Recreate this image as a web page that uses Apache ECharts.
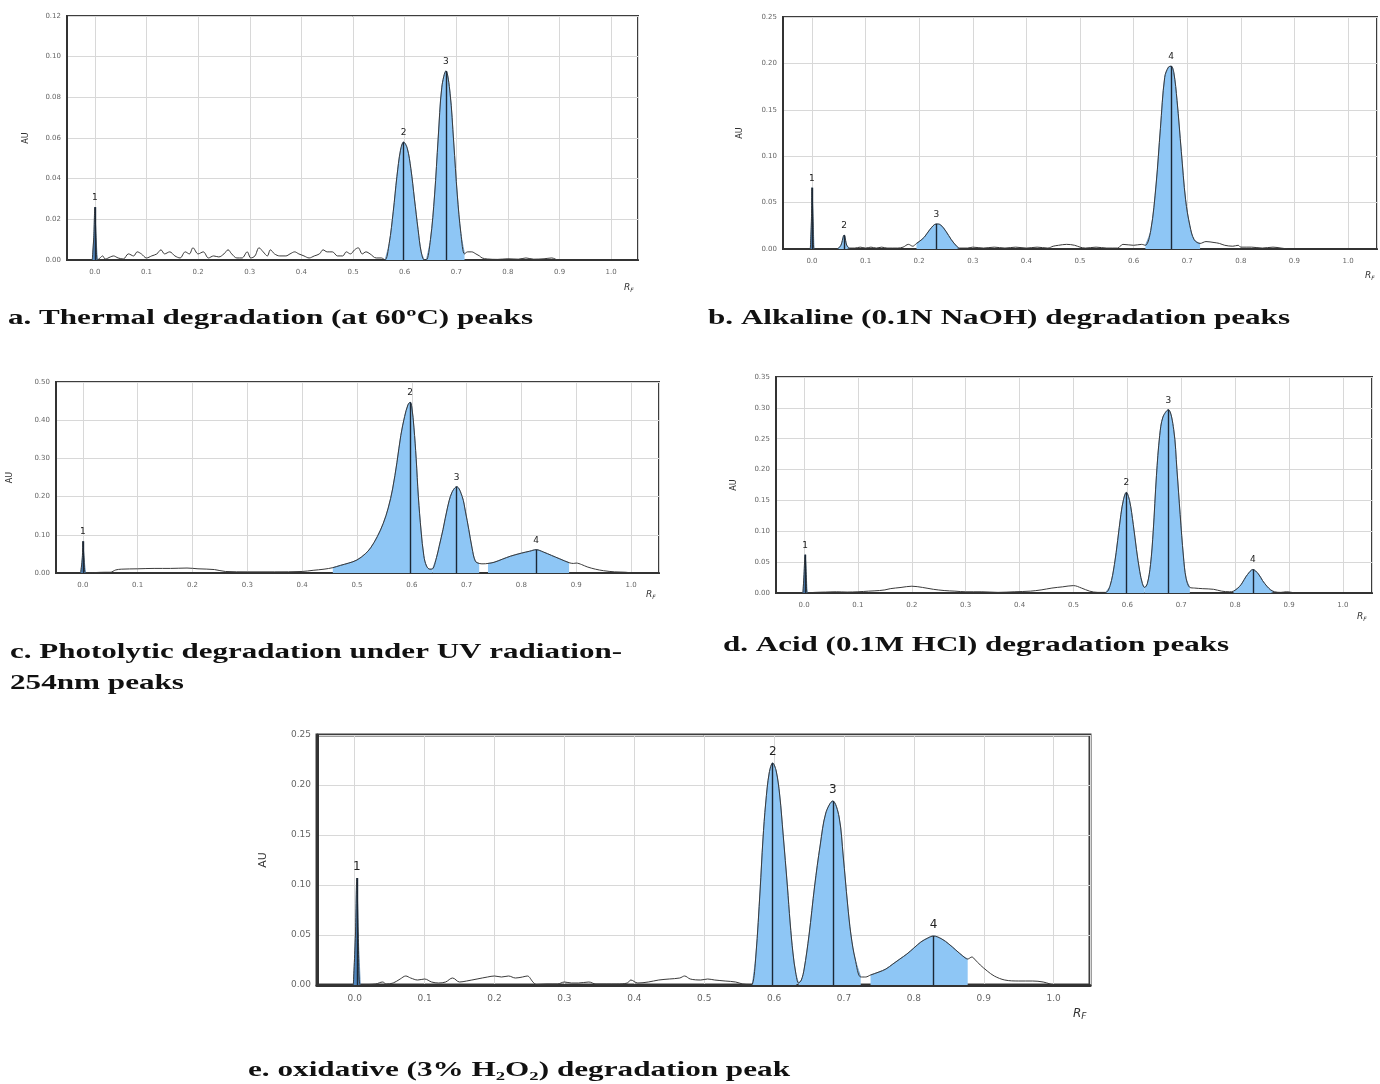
<!DOCTYPE html>
<html><head><meta charset="utf-8">
<script src="https://cdn.jsdelivr.net/npm/echarts@6/dist/echarts.min.js"></script>
<style>html,body{margin:0;padding:0;background:#fff}#c{width:1380px;height:1084px}</style>
</head><body><div id="c"></div>
<script>
// ---------- DATA (Rf, AU) ----------
const traceA = [[-0.005,0],[-0.002,0.012],[0.0,0.026],[0.002,0.012],[0.005,0.0],[0.01,0.001],[0.015,0.002],[0.02,0.0005],[0.03,0.0015],[0.036,0.002],[0.045,0.001],[0.055,0.0005],[0.065,0.003],[0.075,0.002],[0.082,0.004],[0.09,0.003],[0.1,0.001],[0.11,0.002],[0.12,0.003],[0.128,0.005],[0.135,0.003],[0.145,0.004],[0.155,0.002],[0.165,0.001],[0.175,0.004],[0.183,0.003],[0.19,0.006],[0.2,0.003],[0.21,0.004],[0.22,0.001],[0.23,0.002],[0.24,0.0015],[0.25,0.003],[0.258,0.005],[0.265,0.003],[0.275,0.001],[0.285,0.001],[0.295,0.004],[0.302,0.001],[0.31,0.002],[0.318,0.006],[0.326,0.004],[0.334,0.002],[0.34,0.005],[0.348,0.003],[0.358,0.002],[0.37,0.002],[0.378,0.003],[0.387,0.004],[0.395,0.003],[0.405,0.002],[0.415,0.001],[0.425,0.002],[0.435,0.003],[0.442,0.005],[0.45,0.004],[0.46,0.004],[0.47,0.002],[0.48,0.002],[0.487,0.004],[0.495,0.003],[0.503,0.005],[0.51,0.006],[0.518,0.003],[0.525,0.004],[0.533,0.003],[0.545,0.001],[0.555,0.001],[0.562,0.0],[0.57,0.008],[0.578,0.024],[0.585,0.041],[0.592,0.054],[0.598,0.058],[0.605,0.055],[0.612,0.045],[0.619,0.03],[0.626,0.015],[0.632,0.004],[0.638,0.0],[0.642,0.0],[0.65,0.01],[0.658,0.032],[0.665,0.06],[0.672,0.085],[0.68,0.093],[0.688,0.082],[0.695,0.058],[0.702,0.032],[0.709,0.013],[0.716,0.003],[0.722,0.004],[0.73,0.004],[0.738,0.003],[0.745,0.002],[0.75,0.001],[0.76,0.0005],[0.78,0.0003],[0.8,0.0006],[0.82,0.0004],[0.835,0.001],[0.85,0.0004],[0.87,0.0006],[0.885,0.001],[0.895,0.0]];
const peaksA = [['1',-0.005,0.005],['2',0.562,0.638],['3',0.642,0.716]];

const traceB = [[-0.003,0],[-0.001,0.03],[0.0,0.066],[0.002,0.03],[0.004,0.0],[0.02,0.0],[0.04,0.0],[0.048,0.0005],[0.054,0.004],[0.06,0.015],[0.065,0.004],[0.07,0.001],[0.08,0.001],[0.09,0.002],[0.1,0.001],[0.11,0.002],[0.12,0.001],[0.13,0.002],[0.14,0.001],[0.15,0.001],[0.16,0.001],[0.17,0.002],[0.18,0.005],[0.188,0.003],[0.195,0.006],[0.2,0.008],[0.21,0.013],[0.22,0.021],[0.232,0.027],[0.24,0.026],[0.25,0.019],[0.26,0.01],[0.27,0.003],[0.275,0.001],[0.29,0.001],[0.3,0.002],[0.32,0.001],[0.34,0.002],[0.36,0.001],[0.38,0.002],[0.4,0.001],[0.42,0.002],[0.44,0.001],[0.45,0.003],[0.46,0.004],[0.475,0.005],[0.49,0.004],[0.5,0.002],[0.51,0.001],[0.53,0.002],[0.55,0.001],[0.57,0.001],[0.58,0.005],[0.6,0.004],[0.615,0.005],[0.622,0.004],[0.632,0.02],[0.642,0.07],[0.65,0.13],[0.658,0.185],[0.665,0.196],[0.67,0.197],[0.675,0.19],[0.681,0.16],[0.689,0.105],[0.697,0.053],[0.705,0.025],[0.713,0.01],[0.724,0.006],[0.735,0.008],[0.75,0.007],[0.76,0.006],[0.77,0.004],[0.785,0.003],[0.795,0.004],[0.8,0.002],[0.82,0.002],[0.84,0.001],[0.86,0.002],[0.875,0.001],[0.888,0.0]];
const peaksB = [['1',-0.003,0.004],['2',0.048,0.07],['3',0.195,0.275],['4',0.622,0.724]];

const traceC = [[-0.004,0],[-0.001,0.04],[0.0,0.083],[0.002,0.04],[0.005,0.0],[0.02,0.001],[0.04,0.002],[0.05,0.002],[0.06,0.008],[0.07,0.01],[0.1,0.011],[0.13,0.012],[0.16,0.012],[0.19,0.013],[0.21,0.011],[0.24,0.009],[0.26,0.004],[0.3,0.003],[0.35,0.003],[0.4,0.004],[0.42,0.007],[0.44,0.01],[0.456,0.014],[0.47,0.02],[0.485,0.026],[0.5,0.034],[0.515,0.05],[0.525,0.066],[0.537,0.095],[0.548,0.13],[0.557,0.17],[0.565,0.22],[0.573,0.29],[0.58,0.36],[0.587,0.41],[0.593,0.44],[0.597,0.447],[0.6,0.435],[0.604,0.38],[0.608,0.3],[0.612,0.2],[0.617,0.11],[0.622,0.045],[0.627,0.018],[0.633,0.01],[0.638,0.011],[0.645,0.04],[0.65,0.07],[0.657,0.114],[0.665,0.17],[0.673,0.21],[0.682,0.226],[0.692,0.2],[0.698,0.16],[0.704,0.114],[0.71,0.065],[0.716,0.031],[0.723,0.025],[0.73,0.024],[0.739,0.025],[0.75,0.028],[0.765,0.036],[0.78,0.044],[0.8,0.052],[0.815,0.057],[0.827,0.061],[0.84,0.055],[0.855,0.046],[0.87,0.037],[0.887,0.027],[0.895,0.025],[0.9,0.026],[0.91,0.022],[0.92,0.016],[0.935,0.01],[0.95,0.006],[0.97,0.003],[0.99,0.002],[1.0,0.0]];
const peaksC = [['1',-0.004,0.005],['2',0.456,0.638],['3',0.638,0.723],['4',0.739,0.887]];

const traceD = [[-0.002,0],[0.0,0.03],[0.002,0.062],[0.004,0.03],[0.006,0.0],[0.02,0.001],[0.04,0.0015],[0.06,0.002],[0.08,0.0015],[0.1,0.002],[0.12,0.003],[0.14,0.004],[0.15,0.005],[0.16,0.007],[0.18,0.009],[0.2,0.011],[0.22,0.009],[0.24,0.006],[0.26,0.004],[0.28,0.003],[0.3,0.002],[0.33,0.002],[0.36,0.001],[0.39,0.002],[0.42,0.003],[0.44,0.005],[0.46,0.008],[0.48,0.01],[0.5,0.012],[0.515,0.008],[0.53,0.003],[0.545,0.001],[0.56,0.001],[0.568,0.012],[0.576,0.046],[0.582,0.085],[0.588,0.127],[0.593,0.152],[0.598,0.163],[0.604,0.15],[0.611,0.111],[0.617,0.07],[0.623,0.035],[0.628,0.015],[0.632,0.009],[0.637,0.015],[0.643,0.046],[0.648,0.1],[0.654,0.19],[0.66,0.255],[0.666,0.285],[0.676,0.297],[0.686,0.265],[0.692,0.2],[0.698,0.127],[0.704,0.06],[0.709,0.024],[0.716,0.009],[0.725,0.008],[0.74,0.007],[0.76,0.006],[0.775,0.003],[0.79,0.002],[0.797,0.003],[0.805,0.008],[0.811,0.0135],[0.817,0.022],[0.823,0.03],[0.833,0.038],[0.843,0.031],[0.851,0.02],[0.859,0.011],[0.866,0.005],[0.873,0.002],[0.885,0.001],[0.895,0.002],[0.905,0.001],[0.91,0.0]];
const peaksD = [['1',-0.002,0.006],['2',0.56,0.632],['3',0.632,0.716],['4',0.797,0.873]];

const traceE = [[-0.002,0],[0.001,0.05],[0.003,0.107],[0.005,0.05],[0.008,0.0],[0.02,0.0005],[0.03,0.001],[0.04,0.003],[0.045,0.001],[0.055,0.002],[0.065,0.006],[0.073,0.009],[0.08,0.007],[0.09,0.005],[0.1,0.006],[0.11,0.003],[0.12,0.002],[0.13,0.003],[0.14,0.007],[0.15,0.003],[0.16,0.004],[0.175,0.006],[0.19,0.008],[0.2,0.009],[0.21,0.008],[0.22,0.009],[0.23,0.007],[0.24,0.008],[0.247,0.009],[0.255,0.003],[0.26,0.0005],[0.275,0.001],[0.29,0.001],[0.3,0.003],[0.31,0.002],[0.32,0.002],[0.335,0.003],[0.345,0.001],[0.36,0.001],[0.375,0.001],[0.39,0.002],[0.395,0.005],[0.405,0.002],[0.42,0.003],[0.435,0.005],[0.45,0.006],[0.465,0.007],[0.472,0.009],[0.48,0.006],[0.495,0.005],[0.505,0.006],[0.515,0.005],[0.53,0.004],[0.545,0.003],[0.555,0.001],[0.565,0.0005],[0.569,0.001],[0.574,0.03],[0.58,0.095],[0.584,0.145],[0.588,0.182],[0.593,0.212],[0.598,0.222],[0.603,0.214],[0.608,0.19],[0.613,0.15],[0.619,0.099],[0.623,0.062],[0.627,0.032],[0.631,0.012],[0.635,0.002],[0.639,0.005],[0.643,0.016],[0.65,0.05],[0.658,0.099],[0.666,0.14],[0.674,0.172],[0.684,0.184],[0.693,0.168],[0.699,0.128],[0.705,0.082],[0.71,0.05],[0.716,0.026],[0.724,0.008],[0.731,0.008],[0.738,0.01],[0.75,0.013],[0.76,0.016],[0.77,0.021],[0.78,0.026],[0.79,0.031],[0.8,0.037],[0.81,0.043],[0.82,0.047],[0.828,0.049],[0.84,0.046],[0.85,0.041],[0.86,0.035],[0.87,0.029],[0.877,0.026],[0.883,0.028],[0.888,0.025],[0.895,0.02],[0.905,0.014],[0.915,0.009],[0.93,0.005],[0.95,0.004],[0.97,0.004],[0.985,0.003],[0.995,0.001],[1.0,0.0]];
const peaksE = [['1',-0.002,0.008],['2',0.569,0.635],['3',0.635,0.724],['4',0.738,0.877]];

const captions = [
  'a. Thermal degradation (at 60\u00BAC) peaks',
  'b. Alkaline (0.1N NaOH) degradation peaks',
  'c. Photolytic degradation under UV radiation-',
  '254nm peaks',
  'd. Acid (0.1M HCl) degradation peaks',
  'e. oxidative (3% H\u2082O\u2082) degradation peak'
];
const yMax = [0.12, 0.25, 0.50, 0.35, 0.25];
const yStep = [0.02, 0.05, 0.10, 0.05, 0.05];

// ---------- LAYOUT ----------
const panels = [
  {trace: traceA, peaks: peaksA, left:67,  top:16,  width:571, height:244, xmin:-0.054, xmax:1.052, gap:37, fs:7, pfs:9,  nfs:8,  bw:2, rf:[-14,28]},
  {trace: traceB, peaks: peaksB, left:783, top:17,  width:594, height:232, xmin:-0.054, xmax:1.054, gap:39, fs:7, pfs:9,  nfs:8,  bw:2, rf:[-12,27]},
  {trace: traceC, peaks: peaksC, left:56,  top:382, width:603, height:191, xmin:-0.049, xmax:1.051, gap:42, fs:7, pfs:9,  nfs:8,  bw:2, rf:[-13,22]},
  {trace: traceD, peaks: peaksD, left:776, top:377, width:596, height:216, xmin:-0.052, xmax:1.054, gap:38, fs:7, pfs:9,  nfs:8,  bw:2, rf:[-15,24]},
  {trace: traceE, peaks: peaksE, left:317, top:735, width:773, height:250, xmin:-0.054, xmax:1.052, gap:48, fs:9, pfs:12, nfs:11, bw:3, rf:[-17,29]}
];
// caption layout: [x, y-middle, target width]
const capPos = [[8,318,525],[708,318,582],[10,652,612],[10,683,174],[723,645,506],[248,1070,542]];
const CAP_FONT = 'bold 22px "Liberation Serif"';
const FILL = '#8ec6f5';
const FILL_SPIKE = '#4f86bf';
const LINE = '#3a3a3a';

const grids = [], xAxes = [], yAxes = [], series = [], graphics = [];
panels.forEach((p, i) => {
  grids.push({left:p.left, top:p.top, width:p.width, height:p.height, show:true,
    borderColor:'#3d3d3d', borderWidth:p.bw, backgroundColor:'#fff', containLabel:false});
  xAxes.push({type:'value', gridIndex:i, min:p.xmin, max:p.xmax, splitNumber:11,
    axisLine:{show:true, onZero:false, lineStyle:{color:'#333', width:p.bw}}, axisTick:{show:false},
    splitLine:{show:true, lineStyle:{color:'#d8d8d8', width:1}},
    axisLabel:{fontSize:p.fs, color:'#666', fontFamily:'DejaVu Sans', margin:9,
      formatter: v => { const r = Math.round(v*10)/10; return (Math.abs(v-r) < 1e-6 && r >= 0 && r <= 1) ? r.toFixed(1) : ''; }}});
  yAxes.push({type:'value', gridIndex:i, min:0, max:yMax[i], interval:yStep[i],
    name:'AU', nameLocation:'middle', nameGap:p.gap,
    nameTextStyle:{fontSize:p.nfs, color:'#333', fontFamily:'DejaVu Sans'},
    axisLine:{show:true, onZero:false, lineStyle:{color:'#333', width:p.bw}}, axisTick:{show:false},
    splitLine:{show:true, lineStyle:{color:'#d8d8d8', width:1}},
    axisLabel:{fontSize:p.fs, color:'#666', fontFamily:'DejaVu Sans', margin:6,
      formatter: v => v.toFixed(2)}});
  const marks = [];
  p.peaks.forEach(pk => {
    const seg = p.trace.filter(d => d[0] >= pk[1] - 1e-9 && d[0] <= pk[2] + 1e-9);
    let top = seg[0];
    seg.forEach(d => { if (d[1] > top[1]) top = d; });
    series.push({type:'line', xAxisIndex:i, yAxisIndex:i, data:seg, smooth:0.35,
      symbol:'none', silent:true, z:2, lineStyle:{width:0.8, color:'#5a8fc0'},
      areaStyle:{color: pk[0] === '1' ? FILL_SPIKE : FILL, opacity:1, origin:0}});
    marks.push([{name:pk[0], coord:[top[0], 0]}, {coord:[top[0], top[1]]}]);
  });
  series.push({type:'line', xAxisIndex:i, yAxisIndex:i, data:p.trace, smooth:0.35,
    symbol:'none', silent:true, z:3, lineStyle:{color:LINE, width:1},
    markLine:{silent:true, symbol:['none','none'], animation:false,
      lineStyle:{color:'#1c2836', width:1.4, type:'solid'},
      label:{show:true, position:'end', formatter:'{b}', fontSize:p.pfs, color:'#222',
        fontFamily:'DejaVu Sans', distance:5},
      data:marks}});
  graphics.push({type:'text', x:p.left + p.width + p.rf[0], y:p.top + p.height + p.rf[1],
    style:{text:'{r|R}{f|F}', rich:{r:{fontSize:p.nfs+1, fontStyle:'italic', fill:'#333', fontFamily:'DejaVu Sans'},
      f:{fontSize:p.nfs-2, fontStyle:'italic', fill:'#333', fontFamily:'DejaVu Sans', padding:[5,0,0,0]}},
      align:'left', verticalAlign:'middle', textAlign:'left', textVerticalAlign:'middle'}});
});

const ctx = document.createElement('canvas').getContext('2d');
ctx.font = CAP_FONT;
captions.forEach((t, k) => {
  const w = ctx.measureText(t).width || capPos[k][2];
  graphics.push({type:'text', x:capPos[k][0], y:capPos[k][1], scaleX: capPos[k][2] / w,
    style:{text:t, font:CAP_FONT, fill:'#111',
      align:'left', verticalAlign:'middle', textAlign:'left', textVerticalAlign:'middle'}});
});

const chart = echarts.init(document.getElementById('c'), null, {renderer:'canvas', width:1380, height:1084});
chart.setOption({
  animation:false, backgroundColor:'#fff',
  grid:grids, xAxis:xAxes, yAxis:yAxes, series:series, graphic:graphics
});
</script></body></html>
